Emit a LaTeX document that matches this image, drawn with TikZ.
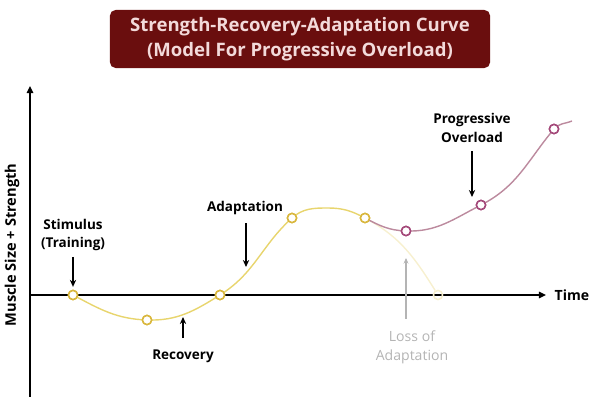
\documentclass[tikz,border=0pt]{standalone}
\usepackage{fontspec}
\setmainfont{Open Sans}
\usetikzlibrary{arrows.meta}
\definecolor{maroon}{HTML}{6A0E0E}
\definecolor{titletext}{HTML}{F3DADA}
\definecolor{yell}{HTML}{E8D56E}
\definecolor{yellring}{HTML}{D9B73E}
\definecolor{yellfade}{HTML}{F7F0CF}
\definecolor{mauve}{HTML}{BC8A9E}
\definecolor{mauvering}{HTML}{A4497A}
\definecolor{lossgray}{HTML}{B4B4B4}
\begin{document}
\begin{tikzpicture}[x=0.025cm,y=-0.025cm]
	\tikzstyle{every node}+=[inner sep=0pt]
	\tikzstyle{lbl}=[font=\bfseries\fontsize{9.6}{13}\selectfont, align=center]
	\tikzstyle{arr}=[black, line width=1pt, -{Stealth[length=5pt,width=4.5pt]}]
	\tikzstyle{ptY}=[circle, draw=yellring, fill=white, line width=1.1pt, minimum size=6.5pt]
	\tikzstyle{ptP}=[circle, draw=mauvering, fill=white, line width=1.1pt, minimum size=6.5pt]
	\useasboundingbox (0,0) rectangle (600,400);
	% title
	\node [fill=maroon, rounded corners=4pt, minimum width=9.5cm, minimum height=1.45cm,
		text=titletext, align=center, font=\bfseries\fontsize{13.2}{17.5}\selectfont] (title) at (300,39)
		{Strength-Recovery-Adaptation Curve\\(Model For Progressive Overload)};
	% axes
	\coordinate (ybot) at (30,397);
	\coordinate (ytop) at (30,86);
	\coordinate (xbeg) at (30,295);
	\coordinate (xend) at (546,295);
	\draw [black, line width=1.1pt, -{Triangle[length=5pt,width=4.5pt]}] (ybot) -- (ytop);
	\draw [black, line width=1.1pt, -{Triangle[length=5pt,width=4.5pt]}] (xbeg) -- (xend);
	\node [lbl, font=\bfseries\fontsize{10}{12}\selectfont] (time) at (572,295) {Time};
	\node [lbl, rotate=90, font=\bfseries\fontsize{10.4}{12}\selectfont] (ylab) at (12,245) {Muscle Size + Strength};
	% curve points
	\coordinate (top) at (328,208);
	\coordinate (pend) at (572,121);
	\node [ptY] (s1) at (73,295) {};
	\node [ptY] (s2) at (147,320) {};
	\node [ptY] (s3) at (220,295) {};
	\node [ptY] (s4) at (292,218) {};
	\node [ptY] (s5) at (365,218) {};
	\node [ptP] (p1) at (406,231) {};
	\node [ptP] (p2) at (481,205) {};
	\node [ptP] (p3) at (554,129) {};
	\node [circle, draw=yellfade, line width=1.1pt, minimum size=6.5pt] (f1) at (438,295) {};
	% curves
	\draw [yellfade, line width=1pt] (s5.center) to[out=-28, in=122] (f1);
	\draw [yell, line width=1pt] (s1.center) to[out=-28, in=178] (s2.center)
		to[out=-2, in=212] (s3.center) to[out=32, in=222] (s4.center)
		to[out=42, in=180] (top) to[out=0, in=152] (s5.center);
	\draw [mauve, line width=1pt] (s5.center) to[out=-28, in=178] (p1.center)
		to[out=-2, in=207] (p2.center) to[out=27, in=230] (p3.center) to[out=50, in=202] (pend);
	\foreach \n in {s1,s2,s3,s4,s5}
		\node [ptY] at (\n) {};
	\foreach \n in {p1,p2,p3}
		\node [ptP] at (\n) {};
	% labels and arrows
	\node [lbl] (stim) at (73,235) {Stimulus\\(Training)};
	\draw [arr, shorten <=4pt, shorten >=2pt] (stim) -- (s1);
	\node [lbl] (adapt) at (245,208) {Adaptation};
	\coordinate (aTip) at (246,267);
	\draw [arr, shorten <=6pt] (adapt.south -| aTip) -- (aTip);
	\node [lbl] (recov) at (183,356) {Recovery};
	\coordinate (rTip) at (183,317);
	\draw [arr, shorten <=8pt] (recov) -- (rTip);
	\node [lbl] (prog) at (472,128) {Progressive\\Overload};
	\coordinate (poTip) at (472,197);
	\draw [arr, shorten <=6pt] (prog) -- (poTip);
	\node [lbl, text=lossgray, font=\fontsize{10}{13.5}\selectfont] (loss) at (412,347) {Loss of\\Adaptation};
	\coordinate (lTip) at (406,258);
	\draw [lossgray, line width=0.8pt, -{Stealth[length=4pt,width=3.5pt]}, shorten <=8pt] (loss.north -| lTip) -- (lTip);
\end{tikzpicture}
\end{document}
